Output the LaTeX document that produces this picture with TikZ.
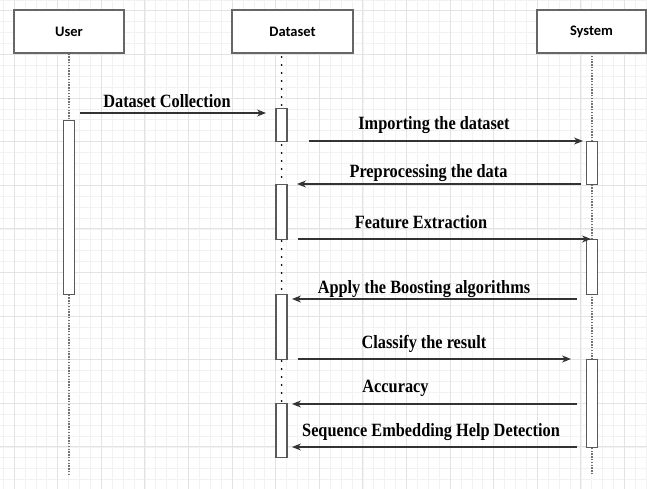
\documentclass[tikz,border=0pt]{standalone}
\usepackage{fontspec}
\usepackage{graphicx}
\setmainfont{Liberation Serif}
\newfontfamily\boxfont{Carlito}
\usetikzlibrary{arrows.meta}
\newcommand{\tallify}[1]{\scalebox{1}[1.15]{#1}}
\begin{document}
\begin{tikzpicture}[x=1pt,y=-1pt,
 actor/.style={draw=black!60,line width=1.4pt,fill=white,minimum width=110pt,minimum height=43pt,inner sep=0pt,font=\boxfont\bfseries\fontsize{14.5}{18}\selectfont},
 actbox/.style={draw=black!65,line width=1.1pt,fill=white,minimum width=11pt,inner sep=0pt,anchor=north},
 msg/.style={draw=black!80,line width=1.1pt,-{Stealth[length=9pt,width=7pt]}},
 lbl/.style={font=\bfseries\fontsize{16.3}{18}\selectfont,inner sep=0pt,anchor=base},
 minorgrid/.style={draw=black!5,line width=0.6pt},
 majorgrid/.style={draw=black!11,line width=0.8pt},
 lifegray/.style={draw=black!55,line width=1.6pt,dash pattern=on 1.4pt off 1.4pt},
 lifeblack/.style={draw=black,line width=2pt,line cap=round,dash pattern=on 0pt off 8pt}
]
\useasboundingbox (0,0) rectangle (647,489);
\fill[white] (0,0) rectangle (647,489);
% grid
\foreach \i in {0,...,59} {
  \draw[minorgrid] ({3.1+10.9*\i},0) -- ({3.1+10.9*\i},489);
}
\foreach \i in {0,...,45} {
  \draw[minorgrid] (0,{-0.1+10.9*\i}) -- (647,{-0.1+10.9*\i});
}
\foreach \i in {0,...,14} {
  \draw[majorgrid] ({14+43.6*\i},0) -- ({14+43.6*\i},489);
}
\foreach \i in {0,...,11} {
  \draw[majorgrid] (0,{10.8+43.6*\i}) -- (647,{10.8+43.6*\i});
}
% actors
\node[actor] (user) at (69,31.5) {User};
\node[actor,minimum width=121pt] (dataset) at (292.5,31.5) {Dataset};
\node[actor,minimum width=109pt] (system) at (591.5,31.5) {System};
% lifeline ends
\coordinate (userend) at (69,475);
\coordinate (dataend) at (281.5,403);
\coordinate (sysend) at (592,475);
\draw[lifegray] (user.south -| userend) -- (userend);
\draw[lifegray] (592,53) -- (sysend);
\draw[lifeblack] (281.5,57) -- (dataend);
% activation bars
\node[actbox,minimum height=174pt] (ua) at (69,120) {};
\node[actbox,minimum height=33pt] (d1) at (281.5,108) {};
\node[actbox,minimum height=55pt] (d2) at (281.5,184) {};
\node[actbox,minimum height=65pt] (d3) at (281.5,294) {};
\node[actbox,minimum height=54pt] (d4) at (281.5,403) {};
\node[actbox,minimum height=43pt] (s1) at (592,141) {};
\node[actbox,minimum height=55pt] (s2) at (592,239) {};
\node[actbox,minimum height=88pt] (s3) at (592,359) {};
% message endpoints
\coordinate (m1a) at (80,113);  \coordinate (m1b) at (266,113);
\coordinate (m2a) at (309,141); \coordinate (m2b) at (583,141);
\coordinate (m3a) at (581,184); \coordinate (m3b) at (297,184);
\coordinate (m4a) at (298,239); \coordinate (m4b) at (591,239);
\coordinate (m5a) at (577,299); \coordinate (m5b) at (292,299);
\coordinate (m6a) at (298,359); \coordinate (m6b) at (571,359);
\coordinate (m7a) at (577,404); \coordinate (m7b) at (292,404);
\coordinate (m8a) at (577,447); \coordinate (m8b) at (292,447);
\draw[msg] (m1a) -- (m1b);
\draw[msg] (m2a) -- (m2b);
\draw[msg] (m3a) -- (m3b);
\draw[msg] (m4a) -- (m4b);
\draw[msg] (m5a) -- (m5b);
\draw[msg] (m6a) -- (m6b);
\draw[msg] (m7a) -- (m7b);
\draw[msg] (m8a) -- (m8b);
% labels
\node[lbl] (l1) at (167,108) {\tallify{Dataset Collection}};
\node[lbl] (l2) at (434,130) {\tallify{Importing the dataset}};
\node[lbl] (l3) at (428.5,178) {\tallify{Preprocessing the data}};
\node[lbl] (l4) at (421,228) {\tallify{Feature Extraction}};
\node[lbl] (l5) at (424,293) {\tallify{Apply the Boosting algorithms}};
\node[lbl] (l6) at (424,348) {\tallify{Classify the result}};
\node[lbl] (l7) at (395.5,392) {\tallify{Accuracy}};
\node[lbl] (l8) at (431,436) {\tallify{Sequence Embedding Help Detection}};
\end{tikzpicture}
\end{document}
